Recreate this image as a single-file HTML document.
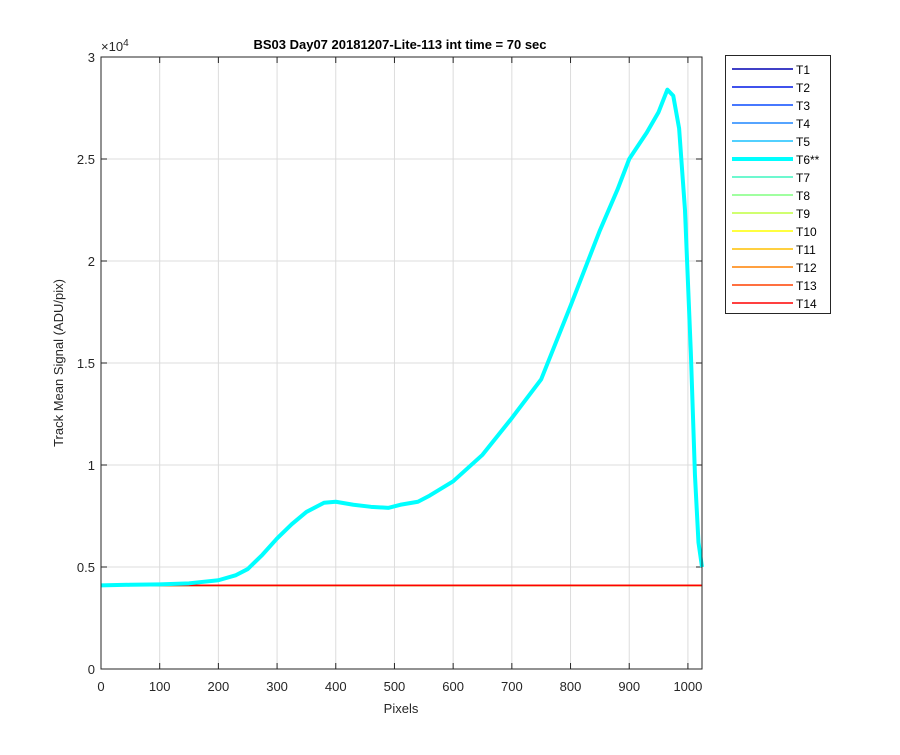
<!DOCTYPE html>
<html><head><meta charset="utf-8"><style>
body{margin:0;background:#fff;font-family:"Liberation Sans",sans-serif}
svg text{font-family:"Liberation Sans",sans-serif}
</style></head><body>
<svg id="c" width="900" height="750">
<rect width="900" height="750" fill="#fff"/>
<g id="grid"></g>
<g id="ticks"></g>
<g id="series"></g>
<rect x="101" y="57" width="601" height="612" fill="none" stroke="#262626" stroke-width="1"/>
<text x="400" y="49" font-size="13" font-weight="bold" text-anchor="middle" fill="#000">BS03 Day07 20181207-Lite-113 int time = 70 sec</text>
<text x="401" y="713" font-size="13" text-anchor="middle" fill="#262626">Pixels</text>
<text x="63" y="363" font-size="13" text-anchor="middle" fill="#262626" transform="rotate(-90 63 363)">Track Mean Signal (ADU/pix)</text>
<text x="101" y="51" font-size="13" fill="#262626">×10<tspan font-size="10" dy="-5">4</tspan></text>
<g id="legend"></g>
</svg>
<script>
const xTicks=[0,100,200,300,400,500,600,700,800,900,1000];
const yTicks=[0,5000,10000,15000,20000,25000,30000];
const yTickLabels=["0","0.5","1","1.5","2","2.5","3"];
const flatValue=4100;
const t6X=[0,50,100,150,200,230,250,275,300,325,350,380,400,430,460,490,510,540,560,600,650,700,750,800,850,880,900,930,950,965,975,985,995,1005,1012,1018,1024];
const t6Y=[4100,4130,4150,4200,4350,4600,4900,5600,6400,7100,7700,8150,8200,8050,7950,7900,8050,8200,8500,9200,10500,12300,14200,17800,21500,23500,25000,26300,27300,28400,28100,26500,22500,15500,9500,6200,5000];
const names=["T1","T2","T3","T4","T5","T6**","T7","T8","T9","T10","T11","T12","T13","T14"];
const colors=["#0000b3","#0019e6","#0a4cff","#1f85ff","#19c0ff","#00ffff","#3df5bf","#80ff80","#c0ff40","#ffff00","#ffc000","#ff8000","#ff4000","#ff0000"];
const X0=101,X1=702,Y0=669,Y1=57,XMAX=1024,YMAX=30000;
const sx=v=>X0+v/XMAX*(X1-X0), sy=v=>Y0-v/YMAX*(Y0-Y1);
const NS="http://www.w3.org/2000/svg";
const mk=(p,t,a)=>{const e=document.createElementNS(NS,t);for(const k in a)e.setAttribute(k,a[k]);p.appendChild(e);return e;};
const grid=document.getElementById('grid'),ticks=document.getElementById('ticks'),series=document.getElementById('series'),legend=document.getElementById('legend');
xTicks.forEach(v=>{const x=sx(v);
 const g=mk(grid,'line',{x1:x,x2:x,y1:Y1,y2:Y0,stroke:'#dcdcdc','stroke-width':1});
 
 
 mk(ticks,'line',{x1:x,x2:x,y1:Y0,y2:Y0-6,stroke:'#262626'});
 mk(ticks,'line',{x1:x,x2:x,y1:Y1,y2:Y1+6,stroke:'#262626'});
 const t=mk(ticks,'text',{x:x,y:Y0+22,'font-size':13,'text-anchor':'middle',fill:'#262626'});t.textContent=v;
 
 
});
yTicks.forEach((v,i)=>{const y=sy(v);
 const g=mk(grid,'line',{x1:X0,x2:X1,y1:y,y2:y,stroke:'#dcdcdc','stroke-width':1});
 
 
 mk(ticks,'line',{x1:X0,x2:X0+6,y1:y,y2:y,stroke:'#262626'});
 mk(ticks,'line',{x1:X1,x2:X1-6,y1:y,y2:y,stroke:'#262626'});
 const t=mk(ticks,'text',{x:X0-6,y:y+5,'font-size':13,'text-anchor':'end',fill:'#262626'});t.textContent=yTickLabels[i];
 
 
});
names.forEach((n,i)=>{
 if(i===5)return;
 const l=mk(series,'line',{x1:sx(0),x2:sx(XMAX),y1:sy(flatValue),y2:sy(flatValue),stroke:colors[i],'stroke-width':1.5});
 
 
});
const p=mk(series,'polyline',{points:t6X.map((x,i)=>sx(x)+','+sy(t6Y[i])).join(' '),fill:'none',stroke:'#00ffff','stroke-width':4,'stroke-linejoin':'round'});


const box=mk(legend,'rect',{x:725.5,y:55.5,width:105,height:258,fill:'#fff',stroke:'#262626'});


names.forEach((n,i)=>{const y=69+i*18;
 const g=mk(legend,'g',{});
 
 
 mk(g,'line',{x1:732,x2:793,y1:y,y2:y,stroke:colors[i],'stroke-width':i===5?4:1.5});
 const t=mk(g,'text',{x:796,y:y+5,'font-size':12,fill:'#000'});t.textContent=n;
});
</script>
</body></html>
